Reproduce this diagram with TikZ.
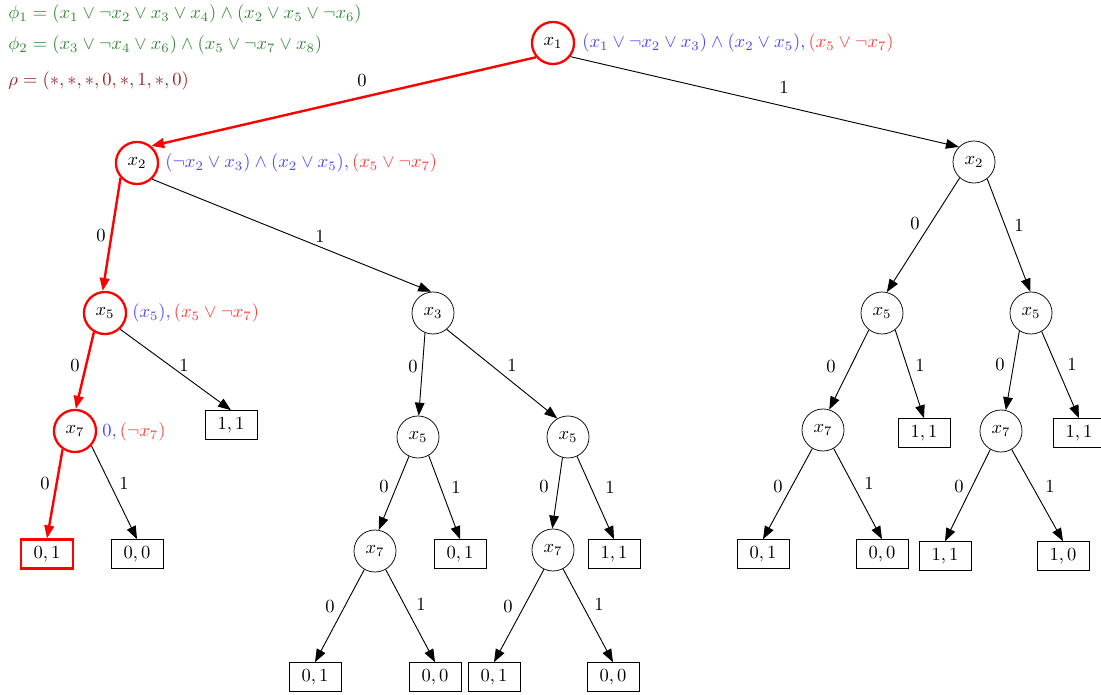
\documentclass[tikz,border=0pt]{standalone}
\usetikzlibrary{arrows.meta}
\definecolor{phigreen}{RGB}{50,135,50}
\definecolor{clblue}{RGB}{70,70,255}
\definecolor{clred}{RGB}{255,60,60}
\definecolor{rhored}{RGB}{155,35,35}
\tikzset{
  var/.style={circle,draw,minimum size=22.7pt,inner sep=0pt},
  leaf/.style={rectangle,draw,minimum width=28pt,minimum height=15.6pt,inner sep=0pt},
  hot/.style={draw=red,line width=1.25pt},
  edge/.style={-{Triangle[length=7pt,width=5.2pt]},line width=0.5pt},
  hotedge/.style={edge,draw=red,fill=red,line width=1.3pt},
  lab/.style={inner sep=1pt},
  note/.style={anchor=west,inner sep=0pt},
}
\begin{document}
\begin{tikzpicture}[x=0.54pt,y=-0.54pt]
\useasboundingbox (0,0) rectangle (1101,695);

% formulas and partial assignment
\node[note,text=phigreen] (phi1) at (8,14) {$\phi_1 = (x_1 \vee \neg x_2 \vee x_3 \vee x_4) \wedge (x_2 \vee x_5 \vee \neg x_6)$};
\node[note,text=phigreen] (phi2) at (8,45) {$\phi_2 = (x_3 \vee \neg x_4 \vee x_6) \wedge (x_5 \vee \neg x_7 \vee x_8)$};
\node[note,text=rhored] (rho) at (8,81) {$\rho = (*,*,*,0,*,1,*,0)$};

% decision nodes
\node[var,hot] (a)   at (553,43)  {$x_1$};
\node[var,hot] (b)   at (137,163) {$x_2$};
\node[var]     (c)   at (974,162) {$x_2$};
\node[var,hot] (d)   at (105,313) {$x_5$};
\node[var]     (e)   at (433,313) {$x_3$};
\node[var]     (f)   at (882,313) {$x_5$};
\node[var]     (g)   at (1031,313) {$x_5$};
\node[var,hot] (h)   at (75,431)  {$x_7$};
\node[var]     (i)   at (418,437) {$x_5$};
\node[var]     (j)   at (568,437) {$x_5$};
\node[var]     (k)   at (823,430) {$x_7$};
\node[var]     (l)   at (1001,431) {$x_7$};
\node[var]     (m)   at (375,551) {$x_7$};
\node[var]     (n)   at (553,550) {$x_7$};

% leaves
\node[leaf]     (L1)  at (231,425)  {$1,1$};
\node[leaf]     (L2)  at (924,433)  {$1,1$};
\node[leaf]     (L3)  at (1079,433) {$1,1$};
\node[leaf,hot] (L4)  at (47,554)   {$0,1$};
\node[leaf]     (L5)  at (137,554)  {$0,0$};
\node[leaf]     (L6)  at (460,554)  {$0,1$};
\node[leaf]     (L7)  at (614,554)  {$1,1$};
\node[leaf]     (L8)  at (763,554)  {$0,1$};
\node[leaf]     (L9)  at (882,554)  {$0,0$};
\node[leaf]     (L10) at (945,556)  {$1,1$};
\node[leaf]     (L11) at (1063,556) {$1,0$};
\node[leaf]     (L12) at (315,677)  {$0,1$};
\node[leaf]     (L13) at (435,677)  {$0,0$};
\node[leaf]     (L14) at (494,677)  {$0,1$};
\node[leaf]     (L15) at (613,677)  {$0,0$};

% clause annotations
\node[note] (na) at (582,43)  {$\color{clblue}(x_1 \vee \neg x_2 \vee x_3) \wedge (x_2 \vee x_5),\color{clred}(x_5 \vee \neg x_7)$};
\node[note] (nb) at (165,163) {$\color{clblue}(\neg x_2 \vee x_3) \wedge (x_2 \vee x_5),\color{clred}(x_5 \vee \neg x_7)$};
\node[note] (nd) at (132,313) {$\color{clblue}(x_5),\color{clred}(x_5 \vee \neg x_7)$};
\node[note] (nh) at (102,432) {$\color{clblue}0,\color{clred}(\neg x_7)$};

% edges: leave the lower side of the parent, enter the top of the child
\draw[hotedge] (a.220) -- (b.50);
\draw[edge]    (a.322) -- (c.135);
\draw[hotedge] (b.222) -- (d.96);
\draw[edge]    (b.313) -- (e.95);
\draw[hotedge] (d.240) -- (h.88);
\draw[edge]    (d.313) -- (L1.north);
\draw[hotedge] (h.236) -- (L4.north);
\draw[edge]    (h.318) -- (L5.north);
\draw[edge]    (e.248) -- (i.88);
\draw[edge]    (e.310) -- (j.120);
\draw[edge]    (i.245) -- (m.80);
\draw[edge]    (i.300) -- (L6.north);
\draw[edge]    (j.255) -- (n.92);
\draw[edge]    (j.295) -- (L7.north);
\draw[edge]    (m.240) -- (L12.north);
\draw[edge]    (m.300) -- (L13.north);
\draw[edge]    (n.245) -- (L14.north);
\draw[edge]    (n.298) -- (L15.north);
\draw[edge]    (c.228) -- (f.77);
\draw[edge]    (c.308) -- (g.92);
\draw[edge]    (f.232) -- (k.73);
\draw[edge]    (f.308) -- (L2.north);
\draw[edge]    (g.237) -- (l.77);
\draw[edge]    (g.300) -- (L3.north);
\draw[edge]    (k.240) -- (L8.north);
\draw[edge]    (k.300) -- (L9.north);
\draw[edge]    (l.240) -- (L10.north);
\draw[edge]    (l.300) -- (L11.north);

% branch labels
\node[lab] (e01) at (362,81)  {$0$};
\node[lab] (e02) at (784,88)  {$1$};
\node[lab] (e03) at (101,236) {$0$};
\node[lab] (e04) at (320,237) {$1$};
\node[lab] (e05) at (75,366)  {$0$};
\node[lab] (e06) at (184,366) {$1$};
\node[lab] (e07) at (45,484)  {$0$};
\node[lab] (e08) at (124,484) {$1$};
\node[lab] (e09) at (413,367) {$0$};
\node[lab] (e10) at (512,366) {$1$};
\node[lab] (e11) at (384,487) {$0$};
\node[lab] (e12) at (456,488) {$1$};
\node[lab] (e13) at (544,487) {$0$};
\node[lab] (e14) at (610,488) {$1$};
\node[lab] (e15) at (330,607) {$0$};
\node[lab] (e16) at (421,605) {$1$};
\node[lab] (e17) at (508,607) {$0$};
\node[lab] (e18) at (599,605) {$1$};
\node[lab] (e19) at (915,224) {$0$};
\node[lab] (e20) at (1019,226) {$1$};
\node[lab] (e21) at (831,367) {$0$};
\node[lab] (e22) at (920,366) {$1$};
\node[lab] (e23) at (1000,365) {$0$};
\node[lab] (e24) at (1072,365) {$1$};
\node[lab] (e25) at (778,487) {$0$};
\node[lab] (e26) at (869,484) {$1$};
\node[lab] (e27) at (959,487) {$0$};
\node[lab] (e28) at (1050,487) {$1$};
\end{tikzpicture}
\end{document}
